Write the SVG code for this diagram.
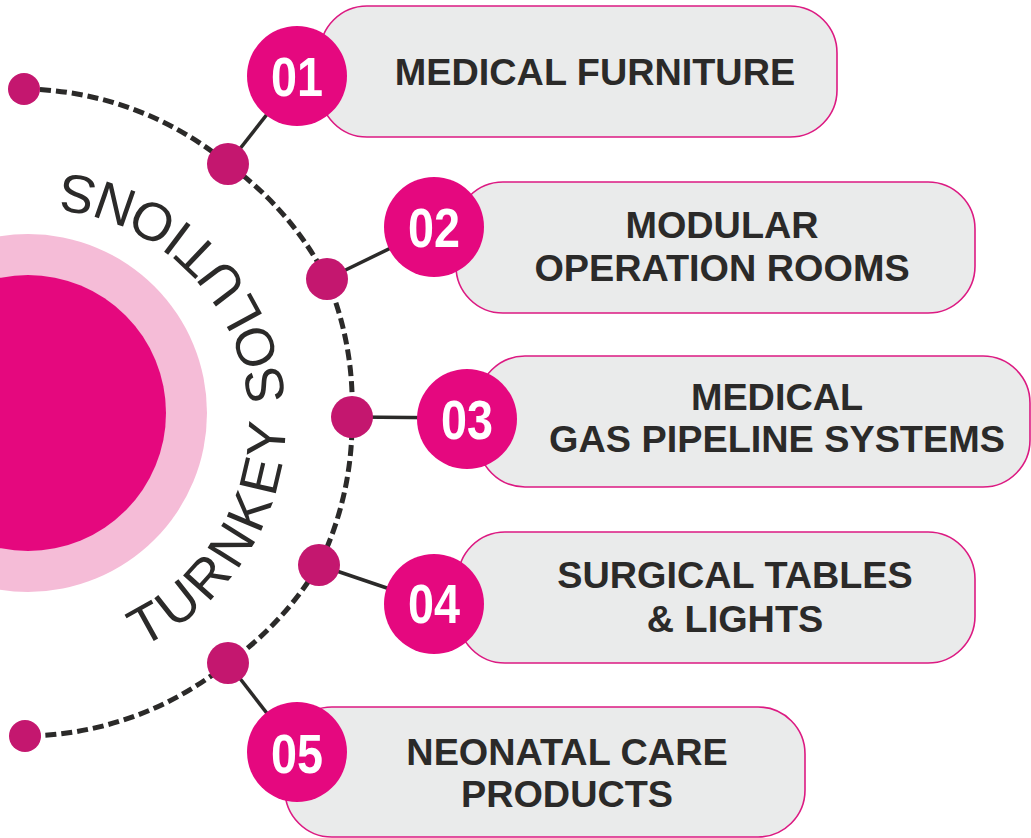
<svg xmlns="http://www.w3.org/2000/svg" width="1031" height="838" viewBox="0 0 1031 838">
<defs>
<style>
.box{fill:#eaebeb;stroke:#dc1a82;stroke-width:1.6}
.num{fill:#e5087f}
.numt{font-family:"Liberation Sans",Arial,sans-serif;font-weight:bold;font-size:55px;fill:#ffffff;text-anchor:middle}
.lbl{font-family:"Liberation Sans",Arial,sans-serif;font-weight:bold;font-size:37.8px;fill:#2b2a29;text-anchor:middle}
.dot{fill:#c4176f}
.conn{stroke:#2b2a29;stroke-width:3.5;fill:none}
.dash{stroke:#2b2a29;stroke-width:5;fill:none;stroke-dasharray:11 5}
</style>
<path id="arcText" d="M141.1,647.2 A249,249 0 0 0 -6.2,175.8"/>
</defs>
<rect width="1031" height="838" fill="#ffffff"/>
<g id="hub">
<circle cx="28" cy="413" r="179" fill="#f5bcd7"/>
<circle cx="28" cy="413" r="138" fill="#e5087e"/>
<text font-family="'Liberation Sans',Arial,sans-serif" font-size="54" fill="#2b2a29" letter-spacing="4"><textPath href="#arcText">TURNKEY SOLUTIONS</textPath></text>
</g>
<g id="connectors">
<path class="dash" d="M24,89 A325,325 0 0 1 228,164 A325,325 0 0 1 327,279 A325,325 0 0 1 352,417 A325,325 0 0 1 319,565 A325,325 0 0 1 228,663 A325,325 0 0 1 25,736"/>
<line class="conn" x1="228" y1="164" x2="297" y2="76"/>
<line class="conn" x1="327" y1="279" x2="434" y2="227"/>
<line class="conn" x1="352" y1="417" x2="467" y2="418"/>
<line class="conn" x1="319" y1="565" x2="434" y2="604"/>
<line class="conn" x1="228" y1="663" x2="297" y2="752"/>
</g>
<g id="dots">
<circle class="dot" cx="24" cy="89" r="16"/>
<circle class="dot" cx="25" cy="736" r="16"/>
<circle class="dot" cx="228" cy="164" r="21"/>
<circle class="dot" cx="327" cy="279" r="21"/>
<circle class="dot" cx="352" cy="417" r="21"/>
<circle class="dot" cx="319" cy="565" r="21"/>
<circle class="dot" cx="228" cy="663" r="21"/>
</g>
<g id="node1">
<rect class="box" x="320" y="6" width="517" height="131" rx="47"/>
<circle class="num" cx="297" cy="76" r="50"/>
<text class="numt" x="297" y="96" textLength="52" lengthAdjust="spacingAndGlyphs">01</text>
<text class="lbl" x="595" y="85">MEDICAL FURNITURE</text>
</g>
<g id="node2">
<rect class="box" x="456" y="182" width="519" height="131" rx="47"/>
<circle class="num" cx="434" cy="227" r="50"/>
<text class="numt" x="434" y="247" textLength="52" lengthAdjust="spacingAndGlyphs">02</text>
<text class="lbl" x="722" y="238">MODULAR</text>
<text class="lbl" x="722" y="281">OPERATION ROOMS</text>
</g>
<g id="node3">
<rect class="box" x="478" y="356" width="552" height="131" rx="47"/>
<circle class="num" cx="467" cy="419" r="50"/>
<text class="numt" x="467" y="439" textLength="52" lengthAdjust="spacingAndGlyphs">03</text>
<text class="lbl" x="777" y="410">MEDICAL</text>
<text class="lbl" x="777" y="452">GAS PIPELINE SYSTEMS</text>
</g>
<g id="node4">
<rect class="box" x="458" y="532" width="517" height="131" rx="47"/>
<circle class="num" cx="434" cy="604" r="50"/>
<text class="numt" x="434" y="623" textLength="52" lengthAdjust="spacingAndGlyphs">04</text>
<text class="lbl" x="735" y="588">SURGICAL TABLES</text>
<text class="lbl" x="735" y="632">&amp; LIGHTS</text>
</g>
<g id="node5">
<rect class="box" x="285" y="707" width="520" height="130" rx="47"/>
<circle class="num" cx="297" cy="752" r="50"/>
<text class="numt" x="297" y="773" textLength="52" lengthAdjust="spacingAndGlyphs">05</text>
<text class="lbl" x="567" y="765">NEONATAL CARE</text>
<text class="lbl" x="567" y="807">PRODUCTS</text>
</g>
</svg>
